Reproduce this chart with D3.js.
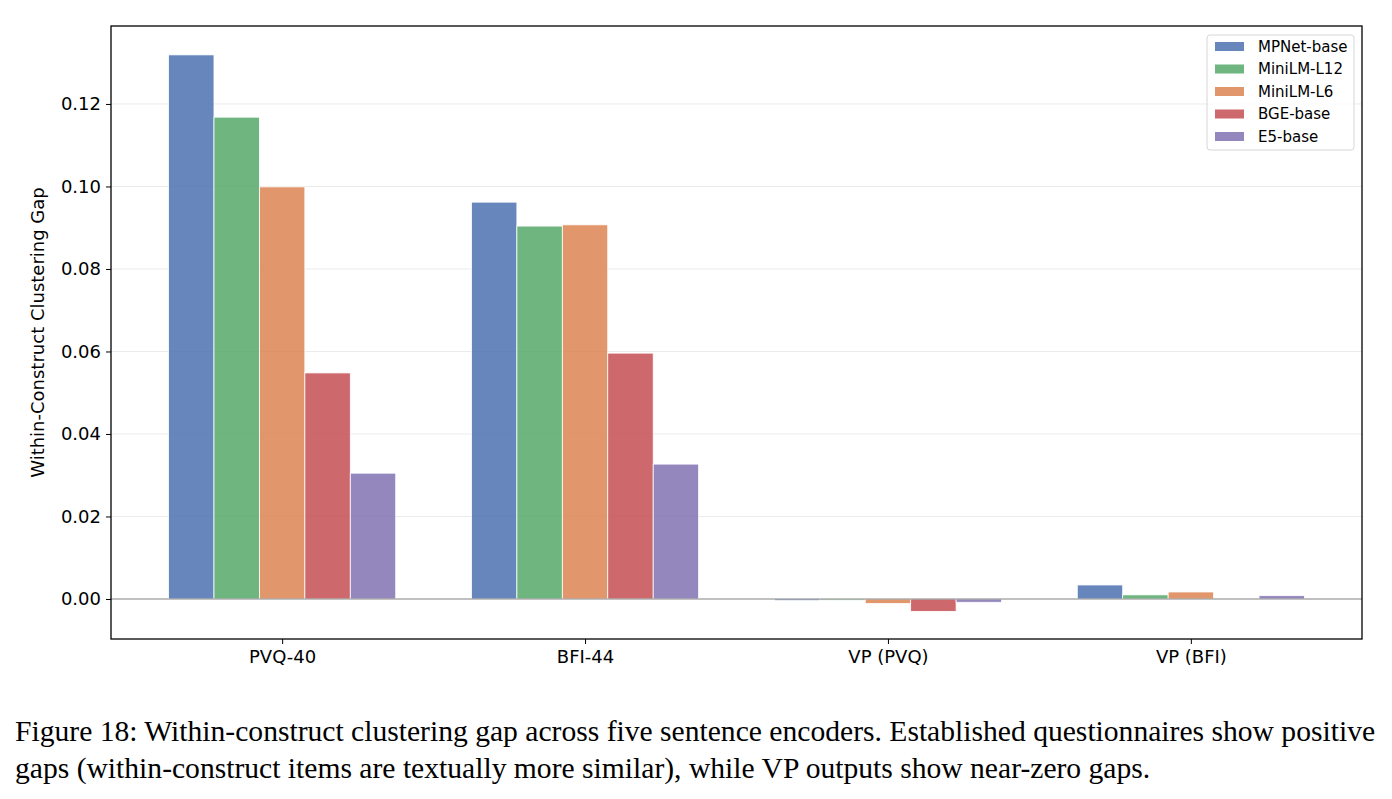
<svg id="svg" width="1392" height="799"></svg>
<script src="https://cdn.jsdelivr.net/npm/d3@7"></script>
<script>
    var categories = ["PVQ-40", "BFI-44", "VP (PVQ)", "VP (BFI)"];
    var models = ["MPNet-base", "MiniLM-L12", "MiniLM-L6", "BGE-base", "E5-base"];
    var colors = ["#4C72B0", "#55A868", "#DD8452", "#C44E52", "#8172B3"];
    // one array per model, values in category order
    var mpnet = [0.1319, 0.0962, -0.0004, 0.0034];
    var minilm12 = [0.1168, 0.0904, -0.0003, 0.0010];
    var minilm6 = [0.0999, 0.0907, -0.0011, 0.0017];
    var bge = [0.0548, 0.0596, -0.0030, 0.0000];
    var e5 = [0.0305, 0.0327, -0.0008, 0.0008];
    var series = [mpnet, minilm12, minilm6, bge, e5];
    var yTicks = [0, 0.02, 0.04, 0.06, 0.08, 0.10, 0.12];

    var svg = d3.select("#svg");
    var pLeft = 111, pRight = 1362, pTop = 26, pBottom = 639;

    var x = d3.scaleLinear().domain([-0.565, 3.565]).range([pLeft, pRight]);
    var y = d3.scaleLinear().domain([-0.0097, 0.1389]).range([pBottom, pTop]);
    var barW = 0.15;

    svg.append("rect").attr("width", 1392).attr("height", 799).attr("fill", "#fff");

    // grid
    svg.selectAll(".grid").data(yTicks).enter().append("line")
        .attr("x1", pLeft).attr("x2", pRight)
        .attr("y1", function (d) { return y(d); }).attr("y2", function (d) { return y(d); })
        .attr("stroke", "#ebebeb").attr("stroke-width", 1);

    // bars
    var bars = [];
    series.forEach(function (vals, m) {
        vals.forEach(function (v, c) {
            bars.push({ m: m, c: c, v: v });
        });
    });
    svg.selectAll(".bar").data(bars).enter().append("rect")
        .attr("x", function (d) { return x(d.c + (d.m - 2.5) * barW); })
        .attr("width", function (d) { return x(barW) - x(0); })
        .attr("y", function (d) { return y(Math.max(0, d.v)); })
        .attr("height", function (d) { return Math.abs(y(d.v) - y(0)); })
        .attr("fill", function (d) { return colors[d.m]; })
        .attr("fill-opacity", 0.85)
        .attr("stroke", "#fff").attr("stroke-width", 0.8);

    // zero line
    svg.append("line").attr("x1", pLeft).attr("x2", pRight)
        .attr("y1", y(0)).attr("y2", y(0))
        .attr("stroke", "#8c8c8c").attr("stroke-width", 1.2);

    // axes
    var yAxis = d3.axisLeft(y).tickValues(yTicks).tickFormat(d3.format(".2f")).tickSize(5).tickPadding(5);
    var gy = svg.append("g").attr("transform", "translate(" + pLeft + ",0)").call(yAxis);
    var xAxis = d3.axisBottom(x).tickValues([0, 1, 2, 3])
        .tickFormat(function (d) { return categories[d]; }).tickSize(5).tickPadding(6);
    var gx = svg.append("g").attr("transform", "translate(0," + pBottom + ")").call(xAxis);
    [gx, gy].forEach(function (g) {
        g.select(".domain").remove();
        g.selectAll("text").attr("font-family", "DejaVu Sans").attr("font-size", 18).attr("fill", "#000");
        g.selectAll("line").attr("stroke", "#000").attr("stroke-width", 1);
    });

    svg.append("rect").attr("x", pLeft).attr("y", pTop)
        .attr("width", pRight - pLeft).attr("height", pBottom - pTop)
        .attr("fill", "none").attr("stroke", "#000").attr("stroke-width", 1.3);

    svg.append("text")
        .attr("transform", "translate(44," + ((pTop + pBottom) / 2) + ") rotate(-90)")
        .attr("text-anchor", "middle")
        .attr("font-family", "DejaVu Sans").attr("font-size", 18)
        .text("Within-Construct Clustering Gap");

    // legend
    var lg = svg.append("g").attr("transform", "translate(1207,35)");
    lg.append("rect").attr("width", 147).attr("height", 115).attr("rx", 3)
        .attr("fill", "#fff").attr("fill-opacity", 0.8)
        .attr("stroke", "#d6d6d6").attr("stroke-width", 1);
    models.forEach(function (name, i) {
        lg.append("rect").attr("x", 8).attr("y", 7 + i * 22.5)
            .attr("width", 29).attr("height", 9)
            .attr("fill", colors[i]).attr("fill-opacity", 0.85);
        lg.append("text").attr("x", 51).attr("y", 16.5 + i * 22.5)
            .attr("font-family", "DejaVu Sans").attr("font-size", 15)
            .text(name);
    });

    // caption
    var captionLines = [
        "Figure 18: Within-construct clustering gap across five sentence encoders. Established questionnaires show positive",
        "gaps (within-construct items are textually more similar), while VP outputs show near-zero gaps."
    ];
    svg.selectAll(".cap").data(captionLines).enter().append("text")
        .attr("x", 15).attr("y", function (d, i) { return 741 + i * 37; })
        .attr("font-family", "Liberation Serif").attr("font-size", 29.6)
        .text(function (d) { return d; });
</script>
<style>
    html,
    body {
        margin: 0;
        padding: 0;
    }
</style>
